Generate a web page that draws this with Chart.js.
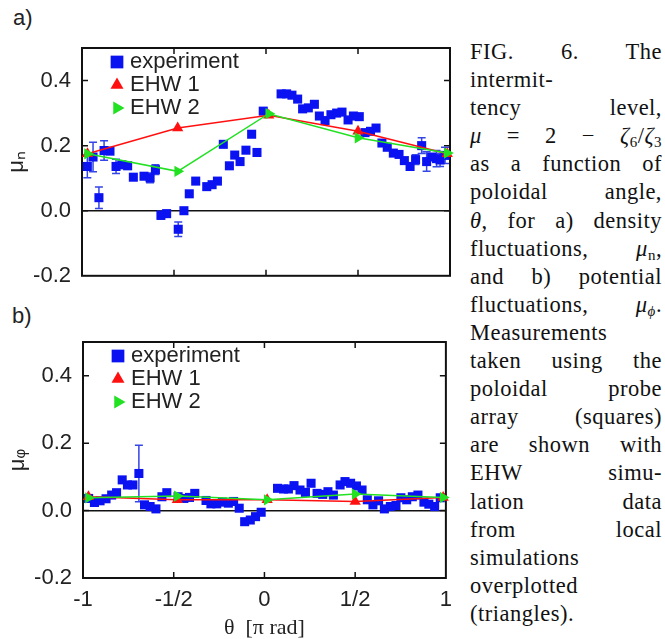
<!DOCTYPE html>
<html>
<head>
<meta charset="utf-8">
<script src="https://cdn.jsdelivr.net/npm/chart.js@4.4.1/dist/chart.umd.min.js"></script>
<style>
  body { margin: 0; background: #fff; }
  #fig { position: relative; width: 665px; height: 639px; overflow: hidden; }
  canvas { position: absolute; }
  .panel-label { position: absolute; font: 22px "Liberation Sans", Arial, sans-serif; line-height: 22px; color: #222; }
  #caption { position: absolute; left: 470px; top: 38px; width: 192px; font: 22.5px "Liberation Serif", "Times New Roman", serif; letter-spacing: 0.5px; line-height: 28.1px; color: #111; }
  .j { text-align: justify; text-align-last: justify; }
  sub { font-size: 15px; line-height: 0; vertical-align: -4px; }
</style>
</head>
<body>
<div id="fig">
  <div class="panel-label" style="left:13px; top:7px;">a)</div>
  <div class="panel-label" style="left:12px; top:305px;">b)</div>
  <canvas id="chartA" width="460" height="300" style="left:0; top:0;"></canvas>
  <canvas id="chartB" width="460" height="339" style="left:1px; top:300px;"></canvas>
  <div id="caption">
    <div class="j">FIG. 6. The</div>
    <div>intermit-</div>
    <div class="j">tency level,</div>
    <div class="j"><i>μ</i> = 2 − <i>ζ</i><sub>6</sub>/<i>ζ</i><sub>3</sub></div>
    <div class="j">as a function of</div>
    <div class="j">poloidal angle,</div>
    <div class="j"><i>θ</i>, for a) density</div>
    <div class="j">fluctuations, <i>μ</i><sub>n</sub>,</div>
    <div class="j">and b) potential</div>
    <div class="j">fluctuations, <i>μ</i><sub><i>ϕ</i></sub>.</div>
    <div>Measurements</div>
    <div class="j">taken using the</div>
    <div class="j">poloidal probe</div>
    <div class="j">array (squares)</div>
    <div class="j">are shown with</div>
    <div class="j">EHW simu-</div>
    <div class="j">lation data</div>
    <div class="j">from local</div>
    <div>simulations</div>
    <div>overplotted</div>
    <div>(triangles).</div>
  </div>
</div>
<script>
// poloidal angle in units of pi
const xTicks = [-1, -0.5, 0, 0.5, 1];
const xTickLabels = ["-1", "-1/2", "0", "1/2", "1"];
const yTicks = [-0.2, 0, 0.2, 0.4];

// a) density fluctuations
const thetaN = [-0.971, -0.940, -0.908, -0.880, -0.848, -0.815, -0.784, -0.752, -0.721, -0.663,
  -0.630, -0.601, -0.571, -0.540, -0.477, -0.446, -0.417, -0.382, -0.322, -0.293,
  -0.264, -0.232, -0.199, -0.170, -0.141, -0.109, -0.078, -0.049, -0.015, 0.082,
  0.112, 0.141, 0.172, 0.199, 0.230, 0.263, 0.290, 0.321, 0.353, 0.384,
  0.413, 0.446, 0.475, 0.507, 0.538, 0.568, 0.598, 0.630, 0.659, 0.692,
  0.723, 0.752, 0.783, 0.813, 0.846, 0.873, 0.900, 0.927, 0.946, 0.973];
const muN = [0.136, 0.165, 0.040, 0.185, 0.183, 0.136, 0.141, 0.138, 0.103, 0.106,
  0.101, 0.126, -0.014, -0.009, -0.057, 0.000, 0.052, 0.091, 0.074, 0.080,
  0.091, 0.204, 0.138, 0.171, 0.151, 0.186, 0.235, 0.179, 0.306, 0.359,
  0.359, 0.355, 0.343, 0.313, 0.316, 0.327, 0.291, 0.277, 0.295, 0.300,
  0.303, 0.279, 0.291, 0.289, 0.240, 0.244, 0.254, 0.208, 0.195, 0.177,
  0.173, 0.154, 0.136, 0.157, 0.200, 0.151, 0.165, 0.160, 0.156, 0.170];
const errN = [0.035, 0.045, 0.033, 0.030, 0, 0.022, 0, 0, 0, 0,
  0.015, 0.015, 0.012, 0.010, 0.022, 0.008, 0, 0, 0, 0,
  0, 0, 0, 0, 0, 0, 0, 0, 0, 0,
  0, 0, 0, 0, 0, 0, 0, 0, 0, 0,
  0, 0, 0, 0, 0, 0, 0, 0, 0, 0,
  0, 0, 0, 0.015, 0.024, 0.030, 0, 0.025, 0.020, 0.025];

// b) potential fluctuations
const thetaPhi = [-0.969, -0.937, -0.906, -0.873, -0.842, -0.815, -0.784, -0.755, -0.725, -0.692,
  -0.661, -0.630, -0.598, -0.565, -0.538, -0.476, -0.444, -0.413, -0.384, -0.322,
  -0.295, -0.263, -0.232, -0.199, -0.170, -0.139, -0.109, -0.078, -0.049, -0.018,
  0.072, 0.105, 0.132, 0.163, 0.196, 0.226, 0.257, 0.290, 0.321, 0.350,
  0.380, 0.417, 0.444, 0.475, 0.507, 0.538, 0.567, 0.598, 0.629, 0.661,
  0.694, 0.725, 0.752, 0.784, 0.815, 0.846, 0.879, 0.906, 0.938, 0.969];
const muPhi = [0.036, 0.024, 0.029, 0.035, 0.046, 0.053, 0.091, 0.076, 0.076, 0.110,
  0.017, 0.012, 0.005, 0.041, 0.053, 0.041, 0.036, 0.039, 0.051, 0.030,
  0.020, 0.020, 0.025, 0.022, 0.027, 0.007, -0.033, -0.028, -0.018, -0.005,
  0.066, 0.064, 0.064, 0.074, 0.061, 0.054, 0.081, 0.051, 0.048, 0.056,
  0.046, 0.076, 0.086, 0.081, 0.073, 0.061, 0.032, 0.017, 0.029, 0.005,
  0.012, 0.015, 0.038, 0.032, 0.041, 0.046, 0.025, 0.019, 0.012, 0.038];
const errPhi = [0, 0, 0, 0, 0, 0, 0, 0, 0, 0.084,
  0, 0, 0, 0, 0, 0, 0, 0, 0, 0,
  0, 0, 0, 0, 0, 0, 0, 0, 0, 0,
  0, 0, 0, 0, 0, 0, 0, 0, 0, 0,
  0, 0, 0, 0, 0, 0, 0, 0, 0, 0,
  0, 0, 0, 0, 0, 0, 0, 0, 0, 0];

// EHW simulations
const ehwTheta = [-0.97, -0.48, 0.015, 0.50, 0.985];
const ehw1N = [0.175, 0.254, 0.293, 0.244, 0.175];
const ehw2N = [0.175, 0.121, 0.298, 0.224, 0.177];
const ehw1Phi = [0.041, 0.032, 0.032, 0.027, 0.039];
const ehw2Phi = [0.038, 0.043, 0.032, 0.049, 0.039];

const BLUE = "#0b12f2";
const RED = "#ff1010";
const GREEN = "#22e022";
const TEXT = "#222";

Chart.defaults.font.family = '"Liberation Sans", Arial, sans-serif';

const toPoints = (xs, ys) => xs.map((x, i) => ({ x: x, y: ys[i] }));

const errorBars = {
  id: "errorBars",
  beforeDatasetsDraw(chart) {
    const ctx = chart.ctx;
    const { x, y } = chart.scales;
    const ds = chart.data.datasets[0];
    ctx.save();
    ctx.strokeStyle = "#3446e6";
    ctx.lineWidth = 1.5;
    ctx.beginPath();
    ds.data.forEach((p, i) => {
      const e = ds.errors[i];
      if (!e) return;
      const px = x.getPixelForValue(p.x);
      const top = y.getPixelForValue(p.y + e);
      const bot = y.getPixelForValue(p.y - e);
      ctx.moveTo(px, top);
      ctx.lineTo(px, bot);
      ctx.moveTo(px - 4, top);
      ctx.lineTo(px + 4, top);
      ctx.moveTo(px - 4, bot);
      ctx.lineTo(px + 4, bot);
    });
    ctx.stroke();
    ctx.restore();
  },
};

const frameTicks = {
  id: "frameTicks",
  beforeDatasetsDraw(chart) {
    const ctx = chart.ctx;
    const { left, right, top, bottom } = chart.chartArea;
    const { x, y } = chart.scales;
    const len = 6;
    ctx.save();
    ctx.strokeStyle = "#111";
    ctx.lineWidth = 1.5;
    ctx.beginPath();
    x.ticks.forEach((t) => {
      const px = x.getPixelForValue(t.value);
      if (px < left + 2 || px > right - 2) return;
      ctx.moveTo(px, top);
      ctx.lineTo(px, top + len);
      ctx.moveTo(px, bottom);
      ctx.lineTo(px, bottom - len);
    });
    y.ticks.forEach((t) => {
      const py = y.getPixelForValue(t.value);
      if (py < top + 2 || py > bottom - 2) return;
      ctx.moveTo(left, py);
      ctx.lineTo(left + len, py);
      ctx.moveTo(right, py);
      ctx.lineTo(right - len, py);
    });
    ctx.stroke();
    ctx.lineWidth = 2;
    ctx.strokeRect(left, top, right - left, bottom - top);
    ctx.restore();
  },
};

const legendBox = {
  id: "legendBox",
  afterDatasetsDraw(chart) {
    const ctx = chart.ctx;
    const { left, top } = chart.chartArea;
    ctx.save();
    ctx.font = '22px "Liberation Sans", Arial, sans-serif';
    ctx.textBaseline = "middle";
    chart.data.datasets.forEach((ds, i) => {
      const cy = top + 14 + i * 23;
      ctx.fillStyle = ds.backgroundColor;
      Chart.helpers.drawPoint(ctx, {
        pointStyle: ds.pointStyle,
        rotation: ds.pointRotation || 0,
        radius: ds.pointStyle === "rect" ? 9 : 7.5,
        borderWidth: 0,
      }, left + 35, cy);
      ctx.fillStyle = TEXT;
      ctx.fillText(ds.label, left + 48, cy);
    });
    ctx.restore();
  },
};

function makePanel(canvas, cfg) {
  return new Chart(canvas, {
    type: "scatter",
    data: {
      datasets: [
        {
          label: "experiment",
          data: toPoints(cfg.theta, cfg.mu),
          errors: cfg.err,
          pointStyle: "rect",
          pointRadius: 6.4,
          backgroundColor: BLUE,
          pointBorderWidth: 0,
          order: 3,
          clip: false,
        },
        {
          label: "EHW 1",
          data: toPoints(ehwTheta, cfg.ehw1),
          showLine: true,
          borderColor: RED,
          borderWidth: 1.5,
          backgroundColor: RED,
          pointStyle: "triangle",
          pointRadius: 6.5,
          pointBorderWidth: 0,
          order: 2,
          clip: false,
        },
        {
          label: "EHW 2",
          data: toPoints(ehwTheta, cfg.ehw2),
          showLine: true,
          borderColor: GREEN,
          borderWidth: 1.5,
          backgroundColor: GREEN,
          pointStyle: "triangle",
          pointRotation: 90,
          pointRadius: 6.5,
          pointBorderWidth: 0,
          order: 1,
          clip: false,
        },
      ],
    },
    options: {
      responsive: false,
      animation: false,
      devicePixelRatio: 1,
      layout: {
        padding: { top: cfg.padTop, right: 10, left: 0, bottom: 0 },
      },
      plugins: {
        legend: { display: false },
        tooltip: { enabled: false },
      },
      scales: {
        x: {
          type: "linear",
          min: -1,
          max: 1,
          afterBuildTicks: (s) => {
            s.ticks = xTicks.map((v) => ({ value: v }));
          },
          afterFit: (s) => {
            s.height = cfg.xHeight;
          },
          grid: { display: false, drawTicks: false },
          border: { display: false },
          ticks: {
            display: cfg.showX,
            autoSkip: false,
            maxRotation: 0,
            padding: 9,
            color: TEXT,
            font: { size: 22 },
            callback: (v, i) => xTickLabels[i],
          },
          title: {
            display: cfg.showX,
            text: "θ  [π rad]",
            color: TEXT,
            font: { family: '"Liberation Serif", "Times New Roman", serif', size: 22, lineHeight: 1 },
            padding: 0,
          },
        },
        y: {
          min: -0.2,
          max: 0.5,
          afterBuildTicks: (s) => {
            s.ticks = yTicks.map((v) => ({ value: v }));
          },
          afterFit: (s) => {
            s.width = 82;
          },
          grid: {
            drawTicks: false,
            lineWidth: 1.5,
            color: (c) => (c.tick && c.tick.value === 0 ? "#111" : "rgba(0,0,0,0)"),
          },
          border: { display: false },
          ticks: {
            padding: 11,
            color: TEXT,
            font: { size: 22 },
            callback: (v) => v.toFixed(1),
          },
          title: {
            display: true,
            text: cfg.yTitle,
            color: TEXT,
            font: { size: 22 },
            padding: { top: 4, bottom: 0 },
          },
        },
      },
    },
    plugins: [frameTicks, errorBars, legendBox],
  });
}

makePanel(document.getElementById("chartA"), {
  theta: thetaN, mu: muN, err: errN, ehw1: ehw1N, ehw2: ehw2N,
  yTitle: "μₙ", padTop: 48, xHeight: 16, showX: false,
});

makePanel(document.getElementById("chartB"), {
  theta: thetaPhi, mu: muPhi, err: errPhi, ehw1: ehw1Phi, ehw2: ehw2Phi,
  yTitle: "μᵩ", padTop: 42, xHeight: 61, showX: true,
});
</script>
</body>
</html>
